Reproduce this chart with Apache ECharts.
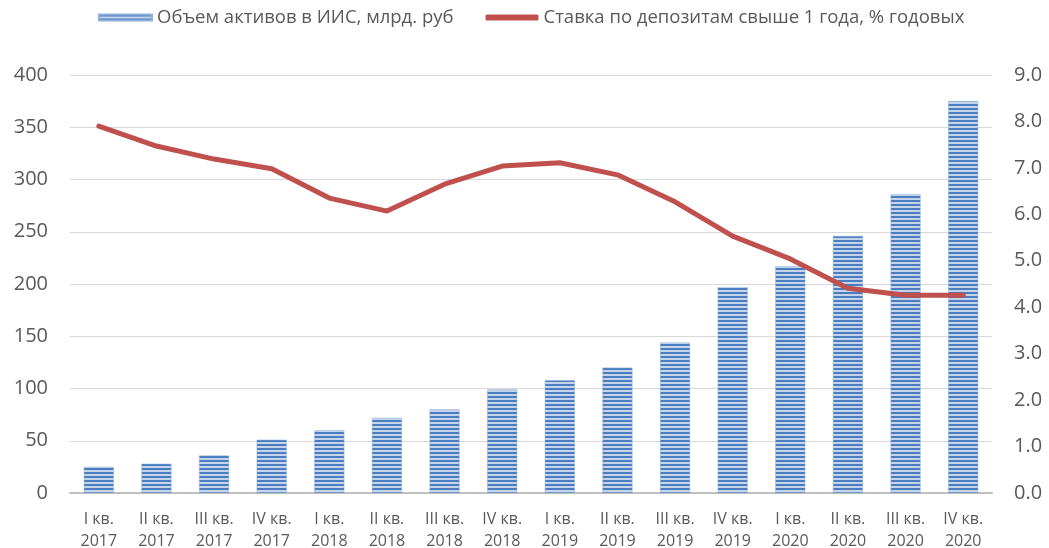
<!DOCTYPE html>
<html><head><meta charset="utf-8">
<script src="https://cdn.jsdelivr.net/npm/echarts@6/dist/echarts.min.js"></script>
<style>html,body{margin:0;padding:0;background:#fff}#c{width:1049px;height:548px}</style>
</head><body><div id="c"></div>
<script>
const categories = ['I кв.\n2017','II кв.\n2017','III кв.\n2017','IV кв.\n2017','I кв.\n2018','II кв.\n2018','III кв.\n2018','IV кв.\n2018','I кв.\n2019','II кв.\n2019','III кв.\n2019','IV кв.\n2019','I кв.\n2020','II кв.\n2020','III кв.\n2020','IV кв.\n2020'];
const assets = [25, 28, 36, 51, 60, 72, 80, 99, 108, 120, 144, 197, 217, 246, 286, 375];
const rates = [7.90, 7.47, 7.19, 6.98, 6.35, 6.07, 6.65, 7.04, 7.11, 6.85, 6.27, 5.53, 5.04, 4.41, 4.26, 4.26];
const seriesNames = ['Объем активов в ИИС, млрд. руб', 'Ставка по депозитам свыше 1 года, % годовых'];

const pc = document.createElement('canvas');
pc.width = 4; pc.height = 4;
const g = pc.getContext('2d');
g.fillStyle = '#c3d4eb'; g.fillRect(0,0,4,4);
g.fillStyle = '#4a7cbf'; g.fillRect(0,0,4,2);

const chart = echarts.init(document.getElementById('c'));
chart.setOption({
  animation: false,
  textStyle: {fontFamily: 'Open Sans, Noto Sans, sans-serif'},
  legend: {
    top: 8, left: 98, padding: 0, itemGap: 32, itemWidth: 53, itemHeight: 6,
    textStyle: {fontSize: 18.5, color: '#595959'},
    data: [{name: seriesNames[0], icon: 'rect'}, {name: seriesNames[1], icon: 'roundRect'}]
  },
  grid: {left: 70, right: 57, top: 75, bottom: 55, containLabel: false, outerBoundsMode: 'none'},
  xAxis: {
    type: 'category', data: categories,
    axisLine: {lineStyle: {color: '#bfbfbf', width: 2}},
    axisTick: {show: false},
    axisLabel: {fontSize: 16, color: '#595959', lineHeight: 22, margin: 15}
  },
  yAxis: [
    {type: 'value', min: 0, max: 400, interval: 50,
     axisLabel: {fontSize: 20, color: '#595959', margin: 22, align: 'right'},
     axisLine: {show: false}, axisTick: {show: false},
     splitLine: {lineStyle: {color: '#d9d9d9', width: 1}}},
    {type: 'value', min: 0, max: 9, interval: 1,
     axisLabel: {fontSize: 20, color: '#595959', margin: 22, formatter: v => v.toFixed(1)},
     axisLine: {show: false}, axisTick: {show: false}, splitLine: {show: false}}
  ],
  series: [
    {name: seriesNames[0], type: 'bar', data: assets, barWidth: 30, yAxisIndex: 0,
     itemStyle: {color: {image: pc, repeat: 'repeat'}, borderColor: '#8fb0da', borderWidth: 0.5}},
    {name: seriesNames[1], type: 'line', data: rates, yAxisIndex: 1, symbol: 'none',
     lineStyle: {color: '#c0504d', width: 5, cap: 'round'}, itemStyle: {color: '#c0504d'}}
  ]
});
</script></body></html>
